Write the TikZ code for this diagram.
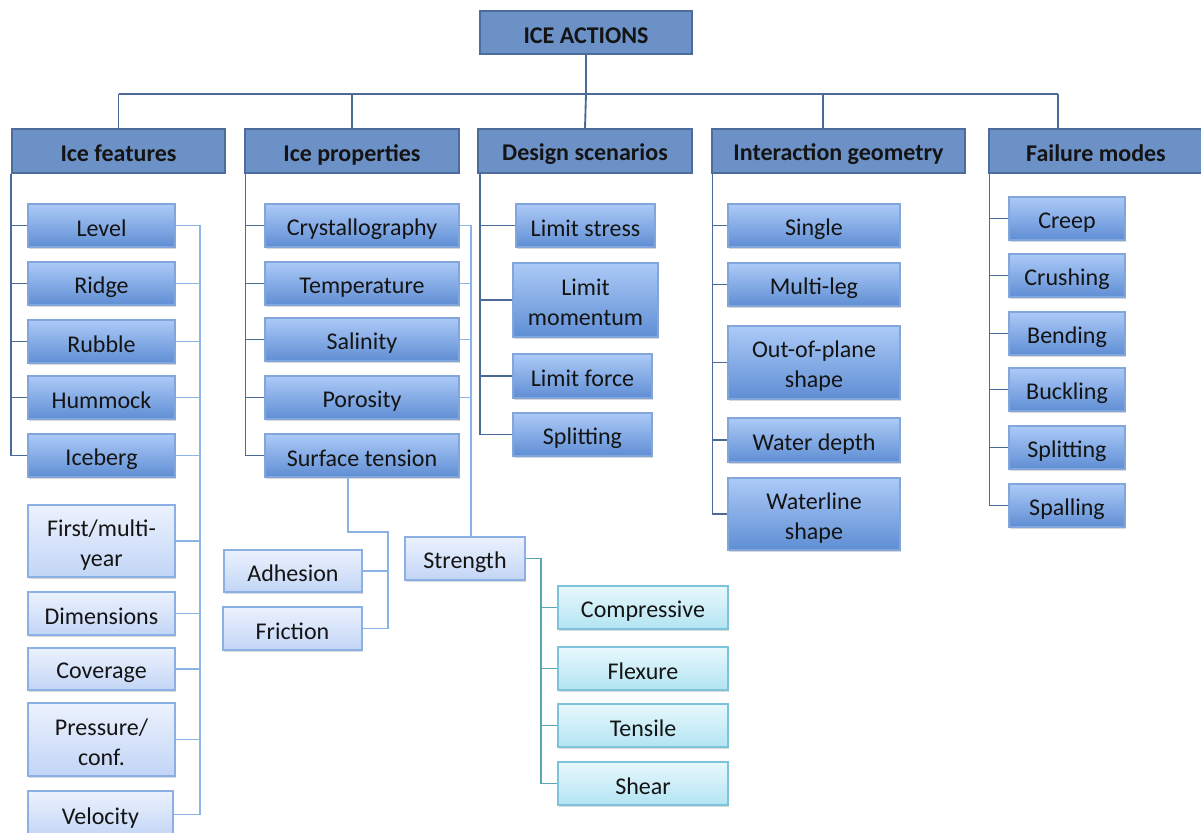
\documentclass[tikz,border=0pt]{standalone}
\usepackage{fontspec}
\setmainfont{Carlito}
\usetikzlibrary{shadows}

\definecolor{hdrfill}{RGB}{108,145,199}
\definecolor{hdrline}{RGB}{78,108,155}
\definecolor{dtop}{RGB}{172,202,247}
\definecolor{dbot}{RGB}{95,142,212}
\definecolor{dline}{RGB}{130,165,220}
\definecolor{ltop}{RGB}{236,242,253}
\definecolor{lbot}{RGB}{194,213,246}
\definecolor{lline}{RGB}{140,175,228}
\definecolor{ctop}{RGB}{232,248,253}
\definecolor{cbot}{RGB}{178,228,242}
\definecolor{cline}{RGB}{125,196,216}
\definecolor{trunk}{RGB}{76,106,152}
\definecolor{branch}{RGB}{140,178,230}
\definecolor{tealline}{RGB}{90,166,184}

% invisible rule fixing the height and depth of every label
\newcommand\lblstrut{\rule[-2pt]{0pt}{20pt}}
% \blk[style]{name}{x1}{y1}{x2}{y2}{text}: a box given by its corners (px)
\newcommand\blk[7][]{%
  \node[#1, minimum width={(#5-#3)*0.75pt}, minimum height={(#6-#4)*0.75pt}]
    (#2) at ({(#3+#5)/2},{(#4+#6)/2}) {\lblstrut#7\lblstrut};}

\tikzset{
  base/.style={inner sep=0pt, align=center, font=\fontsize{18}{22.5}\selectfont, text=black!92},
  header/.style={base, font=\fontsize{18}{22.5}\selectfont\bfseries, fill=hdrfill, draw=hdrline, line width=1.3pt,
    drop shadow={shadow xshift=0.8pt, shadow yshift=-0.8pt, opacity=0.25}},
  darkbox/.style={base, top color=dtop, bottom color=dbot, draw=dline, line width=0.9pt,
    drop shadow={shadow xshift=1pt, shadow yshift=-1.2pt, opacity=0.3}},
  lightbox/.style={base, top color=ltop, bottom color=lbot, draw=lline, line width=0.9pt,
    drop shadow={shadow xshift=1pt, shadow yshift=-1.2pt, opacity=0.3}},
  cyanbox/.style={base, top color=ctop, bottom color=cbot, draw=cline, line width=0.9pt,
    drop shadow={shadow xshift=1pt, shadow yshift=-1.2pt, opacity=0.3}},
  mainline/.style={draw=trunk, line width=1.4pt},
  subline/.style={draw=branch, line width=1.4pt},
  strline/.style={draw=tealline, line width=1.4pt},
}

\begin{document}
\begin{tikzpicture}[x=0.75pt, y=-0.75pt]
\useasboundingbox[fill=white] (0,0) rectangle (1201,832);

% ---- root and first level ----
\blk[header]{top}{480}{11}{692}{54}{ICE ACTIONS}
\blk[header]{if}{12}{129}{225}{173}{Ice features}
\blk[header]{ip}{245}{129}{459}{173}{Ice properties}
\blk[header]{ds}{478}{129}{692}{173}{Design scenarios}
\blk[header]{ig}{712}{129}{965}{173}{Interaction geometry}
\blk[header]{fm}{989}{129}{1203}{173}{Failure modes}

% ---- ice features ----
\blk[darkbox]{level}{28}{204}{175}{247}{Level}
\blk[darkbox]{ridge}{28}{262}{175}{305}{Ridge}
\blk[darkbox]{rubble}{28}{320}{175}{363}{Rubble}
\blk[darkbox]{hummock}{28}{376}{175}{419}{Hummock}
\blk[darkbox]{iceberg}{28}{434}{175}{477}{Iceberg}
\blk[lightbox]{firstyear}{28}{505}{175}{577}{First/multi-\\year}
\blk[lightbox]{dimensions}{28}{592}{175}{635}{Dimensions}
\blk[lightbox]{coverage}{28}{648}{175}{690}{Coverage}
\blk[lightbox]{pressure}{28}{703}{175}{776}{Pressure/\\conf.}
\blk[lightbox]{velocity}{28}{791}{173}{838}{Velocity}

% ---- ice properties ----
\blk[darkbox]{crys}{265}{204}{459}{247}{Crystallography}
\blk[darkbox]{temp}{265}{262}{459}{305}{Temperature}
\blk[darkbox]{salin}{265}{318}{459}{361}{Salinity}
\blk[darkbox]{poros}{265}{376}{459}{419}{Porosity}
\blk[darkbox]{surf}{265}{434}{459}{477}{Surface tension}
\blk[lightbox]{adhesion}{224}{550}{362}{592}{Adhesion}
\blk[lightbox]{friction}{223}{607}{362}{650}{Friction}
\blk[lightbox]{strength}{405}{537}{525}{580}{Strength}
\blk[cyanbox]{compr}{558}{586}{728}{629}{Compressive}
\blk[cyanbox]{flex}{558}{647}{728}{690}{Flexure}
\blk[cyanbox]{tens}{558}{704}{728}{747}{Tensile}
\blk[cyanbox]{shear}{558}{762}{728}{805}{Shear}

% ---- design scenarios ----
\blk[darkbox]{lstress}{516}{204}{655}{247}{Limit stress}
\blk[darkbox]{lmom}{513}{263}{658}{337}{Limit\\momentum}
\blk[darkbox]{lforce}{513}{354}{652}{398}{Limit force}
\blk[darkbox]{dsplit}{513}{413}{652}{456}{Splitting}

% ---- interaction geometry ----
\blk[darkbox]{single}{728}{204}{900}{247}{Single}
\blk[darkbox]{multileg}{728}{263}{900}{306}{Multi-leg}
\blk[darkbox]{oop}{728}{326}{900}{399}{Out-of-plane\\shape}
\blk[darkbox]{wdepth}{728}{418}{900}{462}{Water depth}
\blk[darkbox]{wline}{728}{478}{900}{550}{Waterline\\shape}

% ---- failure modes ----
\blk[darkbox]{creep}{1009}{197}{1125}{240}{Creep}
\blk[darkbox]{crush}{1009}{254}{1125}{297}{Crushing}
\blk[darkbox]{bend}{1009}{312}{1125}{355}{Bending}
\blk[darkbox]{buckl}{1009}{368}{1125}{411}{Buckling}
\blk[darkbox]{fsplit}{1009}{426}{1125}{469}{Splitting}
\blk[darkbox]{spall}{1009}{484}{1125}{527}{Spalling}

% ---- helper coordinates for bends ----
\coordinate (bus) at (586,94);
\coordinate (igdrop) at (823,129);
\coordinate (fmdrop) at (1058,129);
\coordinate (ifr) at (200,0);
\coordinate (ipr) at (471,0);
\coordinate (st1) at (348,532);
\coordinate (st2) at (388,532);
\coordinate (sgx) at (541,0);

% ---- root connectors ----
\draw[mainline] (top.south) -- (bus);
\draw[mainline] (bus -| if.north) -- (bus -| fmdrop);
\draw[mainline] (bus -| if.north) -- (if.north);
\draw[mainline] (bus -| ip.north) -- (ip.north);
\draw[mainline] (bus) -- (ds.north);
\draw[mainline] (bus -| igdrop) -- (igdrop);
\draw[mainline] (bus -| fmdrop) -- (fmdrop);

% ---- trunks on the left of each column ----
\draw[mainline] (if.south west) |- (iceberg.west);
\foreach \n in {level,ridge,rubble,hummock}
  \draw[mainline] (if.south west |- \n.west) -- (\n.west);

\draw[mainline] ([xshift=1pt]ip.south west) |- (surf.west);
\foreach \n in {crys,temp,salin,poros}
  \draw[mainline] ([xshift=1pt]ip.south west |- \n.west) -- (\n.west);

\draw[mainline] ([xshift=2pt]ds.south west) |- (dsplit.west);
\foreach \n in {lstress,lmom,lforce}
  \draw[mainline] ([xshift=2pt]ds.south west |- \n.west) -- (\n.west);

\draw[mainline] ([xshift=1pt]ig.south west) |- (wline.west);
\foreach \n in {single,multileg,oop,wdepth}
  \draw[mainline] ([xshift=1pt]ig.south west |- \n.west) -- (\n.west);

\draw[mainline] ([xshift=1pt]fm.south west) |- (spall.west);
\foreach \n in {creep,crush,bend,buckl,fsplit}
  \draw[mainline] ([xshift=1pt]fm.south west |- \n.west) -- (\n.west);

% ---- ice features: right-hand collector ----
\draw[subline] (level.east) -- (level.east -| ifr) -- (velocity.east -| ifr) -- (velocity.east);
\foreach \n in {ridge,rubble,hummock,iceberg,firstyear,dimensions,coverage,pressure}
  \draw[subline] (\n.east) -- (\n.east -| ifr);

% ---- ice properties: collector down to strength ----
\draw[subline] (crys.east) -- (crys.east -| ipr) -- (strength.north -| ipr);
\foreach \n in {temp,salin,poros}
  \draw[subline] (\n.east) -- (\n.east -| ipr);

% ---- surface tension branch ----
\draw[subline] (surf.south -| st1) -- (st1) -- (st2) -- (st2 |- friction.east) -- (friction.east);
\draw[subline] (adhesion.east) -- (adhesion.east -| st2);

% ---- strength branch ----
\draw[strline] (strength.east) -- (strength.east -| sgx) -- (shear.west -| sgx) -- (shear.west);
\foreach \n in {compr,flex,tens}
  \draw[strline] (\n.west -| sgx) -- (\n.west);
\end{tikzpicture}
\end{document}
